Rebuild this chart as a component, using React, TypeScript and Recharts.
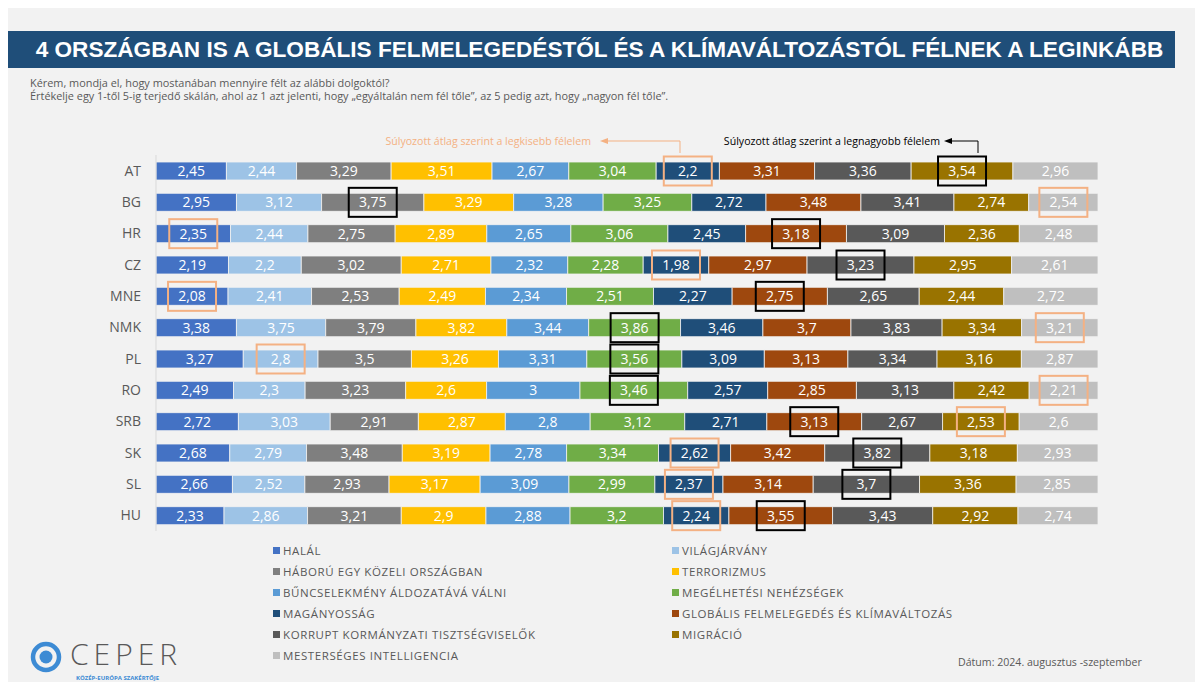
import { BarChart, Bar, XAxis, YAxis, LabelList } from 'recharts'

const countries = ['AT', 'BG', 'HR', 'CZ', 'MNE', 'NMK', 'PL', 'RO', 'SRB', 'SK', 'SL', 'HU']

const halal = [2.45, 2.95, 2.35, 2.19, 2.08, 3.38, 3.27, 2.49, 2.72, 2.68, 2.66, 2.33]
const vilagjarvany = [2.44, 3.12, 2.44, 2.2, 2.41, 3.75, 2.8, 2.3, 3.03, 2.79, 2.52, 2.86]
const haboru = [3.29, 3.75, 2.75, 3.02, 2.53, 3.79, 3.5, 3.23, 2.91, 3.48, 2.93, 3.21]
const terrorizmus = [3.51, 3.29, 2.89, 2.71, 2.49, 3.82, 3.26, 2.6, 2.87, 3.19, 3.17, 2.9]
const buncselekmeny = [2.67, 3.28, 2.65, 2.32, 2.34, 3.44, 3.31, 3, 2.8, 2.78, 3.09, 2.88]
const megelhetesi = [3.04, 3.25, 3.06, 2.28, 2.51, 3.86, 3.56, 3.46, 3.12, 3.34, 2.99, 3.2]
const maganyossag = [2.2, 2.72, 2.45, 1.98, 2.27, 3.46, 3.09, 2.57, 2.71, 2.62, 2.37, 2.24]
const globalis = [3.31, 3.48, 3.18, 2.97, 2.75, 3.7, 3.13, 2.85, 3.13, 3.42, 3.14, 3.55]
const korrupt = [3.36, 3.41, 3.09, 3.23, 2.65, 3.83, 3.34, 3.13, 2.67, 3.82, 3.7, 3.43]
const migracio = [3.54, 2.74, 2.36, 2.95, 2.44, 3.34, 3.16, 2.42, 2.53, 3.18, 3.36, 2.92]
const mesterseges = [2.96, 2.54, 2.48, 2.61, 2.72, 3.21, 2.87, 2.21, 2.6, 2.93, 2.85, 2.74]

const series = [
  { key: 'halal', name: 'HALÁL', color: '#4472c4', values: halal },
  { key: 'vilagjarvany', name: 'VILÁGJÁRVÁNY', color: '#9dc3e6', values: vilagjarvany },
  { key: 'haboru', name: 'HÁBORÚ EGY KÖZELI ORSZÁGBAN', color: '#7f7f7f', values: haboru },
  { key: 'terrorizmus', name: 'TERRORIZMUS', color: '#ffc000', values: terrorizmus },
  { key: 'buncselekmeny', name: 'BŰNCSELEKMÉNY ÁLDOZATÁVÁ VÁLNI', color: '#5b9bd5', values: buncselekmeny },
  { key: 'megelhetesi', name: 'MEGÉLHETÉSI NEHÉZSÉGEK', color: '#70ad47', values: megelhetesi },
  { key: 'maganyossag', name: 'MAGÁNYOSSÁG', color: '#1f4e79', values: maganyossag },
  { key: 'globalis', name: 'GLOBÁLIS FELMELEGEDÉS ÉS KLÍMAVÁLTOZÁS', color: '#9e480e', values: globalis },
  { key: 'korrupt', name: 'KORRUPT KORMÁNYZATI TISZTSÉGVISELŐK', color: '#595959', values: korrupt },
  { key: 'migracio', name: 'MIGRÁCIÓ', color: '#997300', values: migracio },
  { key: 'mesterseges', name: 'MESTERSÉGES INTELLIGENCIA', color: '#bfbfbf', values: mesterseges },
]

const data = countries.map((country, i) => {
  const row: Record<string, string | number> = { country }
  series.forEach((s) => {
    row[s.key] = s.values[i]
  })
  return row
})

const FONT = '"Open Sans", "Noto Sans", sans-serif'
const fmt = (v: number) => String(v).replace('.', ',')

// label + min (orange) / max (black) frame for each segment
function makeLabel(si: number) {
  return (props: any) => {
    const x = Number(props.x)
    const y = Number(props.y)
    const width = Number(props.width)
    const height = Number(props.height)
    const index = props.index as number
    const v = series[si].values[index]
    const row = series.map((s) => s.values[index])
    const min = Math.min(...row)
    const max = Math.max(...row)
    const cx = x + width / 2
    const cy = y + height / 2
    return (
      <g>
        {v === min && (
          <rect x={cx - 24} y={cy - 14.5} width={48} height={29} fill="none" stroke="#f4b183" strokeWidth={2} />
        )}
        {v === max && (
          <rect x={cx - 24} y={cy - 14.5} width={48} height={29} fill="none" stroke="#000" strokeWidth={2} />
        )}
        <text x={cx} y={cy} dy="0.36em" textAnchor="middle" fill="#fff" fontSize={14} fontFamily={FONT}>
          {fmt(v)}
        </text>
      </g>
    )
  }
}

export default function App() {
  return (
    <div
      style={{
        position: 'relative',
        width: 1187,
        height: 674,
        background: '#f2f2f2',
        fontFamily: FONT,
        overflow: 'hidden',
      }}
    >
      <div
        style={{
          position: 'absolute',
          left: 0,
          top: 23,
          width: 1167,
          height: 37,
          background: '#1f4e79',
          color: '#fff',
          display: 'flex',
          alignItems: 'center',
          justifyContent: 'center',
          paddingLeft: 16,
          boxSizing: 'border-box',
          fontFamily: '"Liberation Sans", Arial, sans-serif',
          fontWeight: 700,
          fontSize: 22.6,
          whiteSpace: 'nowrap',
        }}
      >
        4 ORSZÁGBAN IS A GLOBÁLIS FELMELEGEDÉSTŐL ÉS A KLÍMAVÁLTOZÁSTÓL FÉLNEK A LEGINKÁBB
      </div>
      <div
        style={{
          position: 'absolute',
          left: 22,
          top: 68,
          fontSize: 10.9,
          lineHeight: '13px',
          color: '#595959',
        }}
      >
        <div>Kérem, mondja el, hogy mostanában mennyire félt az alábbi dolgoktól?</div>
        <div>
          Értékelje egy 1-től 5-ig terjedő skálán, ahol az 1 azt jelenti, hogy „egyáltalán nem fél tőle”, az 5 pedig
          azt, hogy „nagyon fél tőle”.
        </div>
      </div>

      <div style={{ position: 'absolute', left: 0, top: 0 }}>
        <BarChart
          width={1187}
          height={540}
          data={data}
          layout="vertical"
          stackOffset="expand"
          barSize={18}
          margin={{ top: 147, right: 97, bottom: 17, left: 0 }}
        >
          <XAxis type="number" hide domain={[0, 1]} />
          <YAxis
            type="category"
            dataKey="country"
            width={148}
            axisLine={{ stroke: '#d9d9d9' }}
            tickLine={false}
            tickMargin={9}
            tick={{ fontSize: 14, fill: '#595959', fontFamily: FONT }}
          />
          {series.map((s, si) => (
            <Bar
              key={s.key}
              dataKey={s.key}
              name={s.name}
              stackId="a"
              fill={s.color}
              stroke="#f2f2f2"
              strokeWidth={0.8}
              isAnimationActive={false}
            >
              <LabelList dataKey={s.key} content={makeLabel(si)} />
            </Bar>
          ))}
        </BarChart>
      </div>

      <svg
        width={1187}
        height={674}
        style={{ position: 'absolute', left: 0, top: 0, pointerEvents: 'none' }}
        fontFamily={FONT}
      >
        <text x={583} y={136.5} textAnchor="end" fontSize={10.6} fill="#f4b183">
          Súlyozott átlag szerint a legkisebb félelem
        </text>
        <polyline points="600,133 672,133 672,145" fill="none" stroke="#f4b183" strokeWidth={1} />
        <polygon points="592,133 600,130 600,136" fill="#f4b183" />
        <text x={932} y={136.5} textAnchor="end" fontSize={10.6} fill="#000">
          Súlyozott átlag szerint a legnagyobb félelem
        </text>
        <polyline points="944,133 970,133 970,145" fill="none" stroke="#000" strokeWidth={1} />
        <polygon points="936,133 944,130 944,136" fill="#000" />

        <circle cx={38} cy={649} r={13} fill="none" stroke="#3d8bd4" strokeWidth={4.5} />
        <circle cx={38} cy={649} r={6.5} fill="#3d8bd4" />
        <text x={62} y={657} fontSize={30} fill="#595959" fontWeight={300} letterSpacing={5}>
          CEPER
        </text>
        <text x={68} y={672} fontSize={6} fill="#3d8bd4" fontWeight={700}>
          KÖZÉP-EURÓPA SZAKÉRTŐJE
        </text>
        <text x={950} y={658} fontSize={10.6} fill="#595959">
          Dátum: 2024. augusztus -szeptember
        </text>
      </svg>

      <div
        style={{
          position: 'absolute',
          left: 265,
          top: 532,
          display: 'grid',
          gridTemplateColumns: '399px 330px',
          fontSize: 11.5,
          letterSpacing: 0.6,
          color: '#595959',
        }}
      >
        {series.map((s) => (
          <div key={s.key} style={{ display: 'flex', alignItems: 'center', height: 21, whiteSpace: 'nowrap' }}>
            <span style={{ width: 7, height: 7, background: s.color, marginRight: 3, display: 'inline-block' }} />
            {s.name}
          </div>
        ))}
      </div>
    </div>
  )
}
